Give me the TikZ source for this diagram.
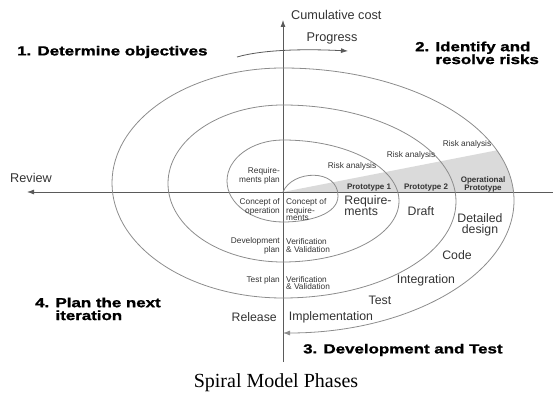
\documentclass[tikz,border=0pt]{standalone}
\usepackage{fontspec}
\setmainfont{Liberation Sans}
\newfontfamily\captionfont{Liberation Serif}
\newfontfamily\phasefont{Liberation Sans}[FakeStretch=1.28, FakeBold=1.2]
\usetikzlibrary{arrows.meta}
\definecolor{linegray}{HTML}{8C8C8C}
\definecolor{axisgray}{HTML}{5A5A5A}
\definecolor{textgray}{HTML}{333333}
\definecolor{shadegray}{HTML}{DADADA}

\begin{document}
\begin{tikzpicture}[x=1pt, y=1pt,
    spiral/.style={draw=linegray, line width=0.8pt},
    axis/.style={draw=axisgray, line width=0.8pt},
    tip/.style={-{Latex[length=7pt,width=5pt]}},
    phase/.style={font=\phasefont\bfseries\fontsize{13.2}{11}\selectfont,
        text=black, inner sep=0pt},
    small/.style={font=\fontsize{8.3}{7.2}\selectfont, text=textgray, inner sep=0pt},
    proto/.style={font=\bfseries\fontsize{8}{7.5}\selectfont, text=textgray, inner sep=0pt},
    big/.style={font=\fontsize{12.3}{11}\selectfont, text=textgray, inner sep=0pt},
    axislabel/.style={font=\fontsize{12.7}{14}\selectfont, text=textgray, inner sep=0pt}
]
    \useasboundingbox (0,0) rectangle (553,404);

    % shaded prototype wedge
    \begin{scope}
        \clip (283,203.5) ellipse [x radius=231, y radius=132.5];
        \fill[shadegray] (283,212) -- (560,266) -- (560,212) -- cycle;
    \end{scope}

    % axes
    \coordinate (origin) at (283,212);
    \coordinate (cost end) at (283,384);
    \coordinate (axis bottom) at (283,42);
    \coordinate (axis right) at (553,212);
    \coordinate (review end) at (27,212);
    \draw[axis, tip] (axis bottom) -- (cost end);
    \draw[axis, tip] (axis right) -- (review end);

    % spiral
    \draw[spiral, tip] (origin) .. controls (292,234) and (338,236) .. (338,208)
        .. controls (338,190) and (310,182) .. (283,182)
        arc[start angle=-90, end angle=-270, x radius=56, y radius=41]
        arc[start angle=90, end angle=-90, x radius=116, y radius=61]
        arc[start angle=-90, end angle=-270, x radius=115, y radius=78.5]
        arc[start angle=90, end angle=-90, x radius=173, y radius=96.5]
        arc[start angle=-90, end angle=-270, x radius=171, y radius=115]
        arc[start angle=90, end angle=-90, x radius=231, y radius=132.5];

    % progress arrow
    \coordinate (progress start) at (237,347);
    \coordinate (progress end) at (348,353);
    \draw[axis, tip] (progress start) .. controls (265,355) and (310,355) .. (progress end);

    % axis labels
    \node[axislabel, anchor=west] (cost) at (291,389) {Cumulative cost};
    \node[axislabel] (progress) at (332,366) {Progress};
    \node[axislabel] (review) at (31,226) {Review};

    % phases
    \node[phase, anchor=west] (objectives) at (17,352) {1. Determine objectives};
    \node[phase, anchor=west] (risks) at (415,349.5)
        {\begin{tabular}{@{}l@{ }l@{}}2.&Identify and\\&resolve risks\end{tabular}};
    \node[phase, anchor=west] (devtest) at (303,54) {3. Development and Test};
    \node[phase, anchor=west] (plan) at (35,93.5)
        {\begin{tabular}{@{}l@{ }l@{}}4.&Plan the next\\&iteration\end{tabular}};

    % inner labels, left of the axis
    \node[small, align=right, anchor=east] (reqplan) at (280,228) {Require-\\ments plan};
    \node[small, align=right, anchor=east] (conop) at (280,197.5) {Concept of\\operation};
    \node[small, align=right, anchor=east] (devplan) at (280,158.5) {Development\\plan};
    \node[small, anchor=east] (testplan) at (280,124) {Test plan};
    \node[big, anchor=east] (release) at (277,87) {Release};

    % inner labels, right of the axis
    \node[small, align=left, anchor=west] (conreq) at (286,194) {Concept of\\require-\\ments};
    \node[small, align=left, anchor=west] (vv1) at (286,158.5) {Verification\\\& Validation};
    \node[small, align=left, anchor=west] (vv2) at (286,121) {Verification\\\& Validation};

    \node[small] (risk1) at (352,238) {Risk analysis};
    \node[small] (risk2) at (411,249) {Risk analysis};
    \node[small] (risk3) at (467,260) {Risk analysis};

    \node[proto] (proto1) at (369,216) {Prototype 1};
    \node[proto] (proto2) at (426,216) {Prototype 2};
    \node[proto, align=center] (opproto) at (483,219.5) {Operational\\Prototype};

    \node[big, align=left] (reqs) at (368,198.5) {Require-\\ments};
    \node[big] (draft) at (421,193) {Draft};
    \node[big, align=center] (design) at (480,179) {Detailed\\design};
    \node[big] (code) at (457,149) {Code};
    \node[big] (integration) at (426,124) {Integration};
    \node[big] (test) at (380,104) {Test};
    \node[big] (impl) at (331,87) {Implementation};

    % caption
    \node[font=\captionfont\fontsize{20}{22}\selectfont, inner sep=0pt] (caption) at (276,21)
        {Spiral Model Phases};
\end{tikzpicture}
\end{document}
